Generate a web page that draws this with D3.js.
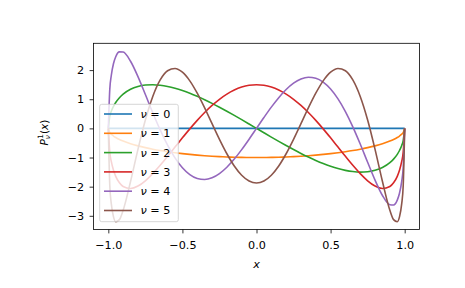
<!DOCTYPE html>
<html>
<head>
<meta charset="utf-8">
<script src="https://cdn.jsdelivr.net/npm/d3@7"></script>
<style>
  body { margin: 0; background: #fff; }
  svg { font-family: "DejaVu Sans", sans-serif; }
</style>
</head>
<body>
<div id="chart"></div>
<script>
const xs = [-1, -0.99, -0.98, -0.965, -0.95, -0.925, -0.9, -0.85, -0.8, -0.75, -0.7, -0.65, -0.6,
  -0.55, -0.5, -0.45, -0.4, -0.35, -0.3, -0.25, -0.2, -0.15, -0.1, -0.05, 0,
  0.05, 0.1, 0.15, 0.2, 0.25, 0.3, 0.35, 0.4, 0.45, 0.5, 0.55, 0.6, 0.65, 0.7, 0.75,
  0.8, 0.85, 0.9, 0.925, 0.95, 0.965, 0.98, 0.99, 1];

const nu0 = [0, 0, 0, 0, 0, 0, 0, 0, 0, 0, 0, 0, 0, 0, 0, 0, 0, 0, 0, 0, 0, 0, 0, 0, 0,
  0, 0, 0, 0, 0, 0, 0, 0, 0, 0, 0, 0, 0, 0, 0, 0, 0, 0, 0, 0, 0, 0, 0, 0];

const nu1 = [0, -0.141, -0.199, -0.262, -0.312, -0.380, -0.436, -0.527, -0.6, -0.661, -0.714, -0.760, -0.8,
  -0.835, -0.866, -0.893, -0.917, -0.937, -0.954, -0.968, -0.980, -0.989, -0.995, -0.999, -1,
  -0.999, -0.995, -0.989, -0.980, -0.968, -0.954, -0.937, -0.917, -0.893, -0.866, -0.835, -0.8, -0.760, -0.714, -0.661,
  -0.6, -0.527, -0.436, -0.380, -0.312, -0.262, -0.199, -0.141, 0];

const nu2 = [0, 0.419, 0.585, 0.759, 0.890, 1.054, 1.177, 1.343, 1.44, 1.488, 1.500, 1.482, 1.44,
  1.378, 1.299, 1.206, 1.100, 0.984, 0.859, 0.726, 0.588, 0.445, 0.299, 0.150, 0,
  -0.150, -0.299, -0.445, -0.588, -0.726, -0.859, -0.984, -1.100, -1.206, -1.299, -1.378, -1.44, -1.482, -1.500, -1.488,
  -1.44, -1.343, -1.177, -1.054, -0.890, -0.759, -0.585, -0.419, 0];

const nu3 = [0, -0.825, -1.135, -1.438, -1.645, -1.868, -1.994, -2.064, -1.98, -1.798, -1.553, -1.268, -0.96,
  -0.642, -0.325, -0.017, 0.275, 0.545, 0.787, 0.999, 1.176, 1.316, 1.418, 1.479, 1.5,
  1.479, 1.418, 1.316, 1.176, 0.999, 0.787, 0.545, 0.275, -0.017, -0.325, -0.642, -0.96, -1.268, -1.553, -1.798,
  -1.98, -2.064, -1.994, -1.868, -1.645, -1.438, -1.135, -0.825, 0];

const nu4 = [0, 1.348, 1.815, 2.226, 2.460, 2.627, 2.619, 2.303, 1.776, 1.163, 0.537, -0.053, -0.576,
  -1.013, -1.353, -1.590, -1.723, -1.756, -1.696, -1.551, -1.333, -1.054, -0.729, -0.372, 0,
  0.372, 0.729, 1.054, 1.333, 1.551, 1.696, 1.756, 1.723, 1.590, 1.353, 1.013, 0.576, 0.053, -0.537, -1.163,
  -1.776, -2.303, -2.619, -2.627, -2.460, -2.226, -1.815, -1.348, 0];

const nu5 = [0, -1.971, -2.584, -3.036, -3.202, -3.131, -2.810, -1.824, -0.722, 0.286, 1.095, 1.662, 1.978,
  2.057, 1.928, 1.631, 1.207, 0.702, 0.161, -0.376, -0.870, -1.290, -1.608, -1.807, -1.875,
  -1.807, -1.608, -1.290, -0.870, -0.376, 0.161, 0.702, 1.207, 1.631, 1.928, 2.057, 1.978, 1.662, 1.095, 0.286,
  -0.722, -1.824, -2.810, -3.131, -3.202, -3.036, -2.584, -1.971, 0];

const seriesNames = ["0", "1", "2", "3", "4", "5"];
const seriesValues = [nu0, nu1, nu2, nu3, nu4, nu5];
const colors = ["#1f77b4", "#ff7f0e", "#2ca02c", "#d62728", "#9467bd", "#8c564b"];

const xTicks = [-1.0, -0.5, 0.0, 0.5, 1.0];
const yTicks = [-3, -2, -1, 0, 1, 2];

const width = 465, height = 288;
const mLeft = 93.5, mRight = 419.5, mTop = 43.3, mBottom = 229.5;
const fs = 11.2;

const svg = d3.select("#chart").append("svg")
  .attr("width", width)
  .attr("height", height);

const x = d3.scaleLinear().domain([-1.1, 1.1]).range([mLeft, mRight]);
const y = d3.scaleLinear().domain([-3.47, 2.92]).range([mBottom, mTop]);

const fmtMinus = s => s.replace("-", "\u2212");

// axes
const xAxis = svg.append("g")
  .attr("transform", `translate(0,${mBottom})`)
  .call(d3.axisBottom(x).tickValues(xTicks).tickSize(3.9).tickPadding(8)
    .tickFormat(d => fmtMinus(d3.format(".1f")(d))));
const yAxis = svg.append("g")
  .attr("transform", `translate(${mLeft},0)`)
  .call(d3.axisLeft(y).tickValues(yTicks).tickSize(3.9).tickPadding(5.4)
    .tickFormat(d => fmtMinus(String(d))));

[xAxis, yAxis].forEach(g => {
  g.select(".domain").remove();
  g.selectAll(".tick line").attr("stroke", "#000").attr("stroke-width", 0.8);
  g.selectAll(".tick text")
    .attr("font-family", "DejaVu Sans")
    .attr("font-size", fs)
    .attr("fill", "#000");
});

// lines
const line = d3.line()
  .x((d, i) => x(xs[i]))
  .y(d => y(d))
  .curve(d3.curveMonotoneX);

const plot = svg.append("g");
seriesValues.forEach((vals, i) => {
  plot.append("path")
    .attr("d", line(vals))
    .attr("fill", "none")
    .attr("stroke", colors[i])
    .attr("stroke-width", 1.6)
    .attr("stroke-linejoin", "round")
    .attr("stroke-linecap", "butt");
});

// frame
svg.append("rect")
  .attr("x", mLeft).attr("y", mTop)
  .attr("width", mRight - mLeft).attr("height", mBottom - mTop)
  .attr("fill", "none")
  .attr("stroke", "#000")
  .attr("stroke-width", 0.8);

// axis labels
svg.append("text")
  .attr("x", (mLeft + mRight) / 2)
  .attr("y", 267.5)
  .attr("text-anchor", "middle")
  .attr("font-size", fs)
  .attr("font-style", "italic")
  .text("x");

const ylab = svg.append("g")
  .attr("transform", "translate(47.5,133.4) rotate(-90)");
ylab.append("text").attr("x", -12).attr("y", 0)
  .attr("font-size", 10.5).attr("font-style", "italic").text("P");
ylab.append("text").attr("x", -5.4).attr("y", -4.4)
  .attr("font-size", 7.3).text("1");
ylab.append("text").attr("x", -5.8).attr("y", 2.7)
  .attr("font-size", 7.3).attr("font-style", "italic").text("\u03bd");
const par = ylab.append("text").attr("x", -0.6).attr("y", 0).attr("font-size", 10.5);
par.append("tspan").text("(");
par.append("tspan").attr("font-style", "italic").text("x");
par.append("tspan").text(")");

// legend
const lg = svg.append("g");
lg.append("rect")
  .attr("x", 99.7).attr("y", 104.3)
  .attr("width", 78.6).attr("height", 117.4)
  .attr("rx", 2).attr("ry", 2)
  .attr("fill", "#fff").attr("fill-opacity", 0.8)
  .attr("stroke", "#cccccc").attr("stroke-width", 0.8);

seriesNames.forEach((name, i) => {
  const ry = 114 + i * 19.3;
  lg.append("line")
    .attr("x1", 104).attr("x2", 132)
    .attr("y1", ry).attr("y2", ry)
    .attr("stroke", colors[i]).attr("stroke-width", 1.6);
  const t = lg.append("text")
    .attr("x", 140.5).attr("y", ry + 3.9)
    .attr("font-size", fs);
  t.append("tspan").attr("font-style", "italic").text("\u03bd");
  t.append("tspan").text(" = " + name);
});
</script>
</body>
</html>
